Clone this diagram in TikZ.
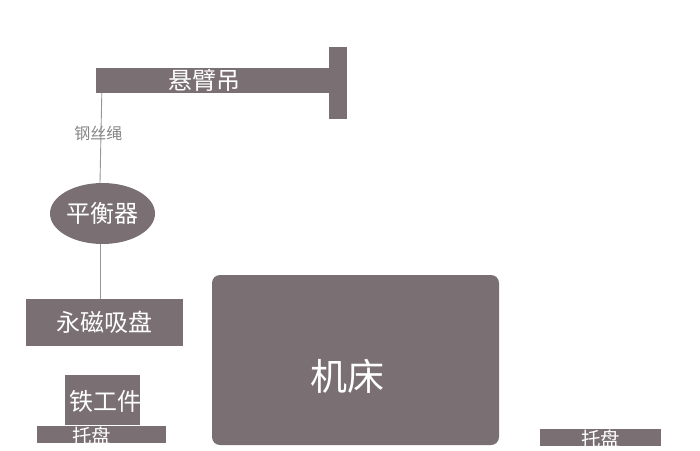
\documentclass[tikz,border=0pt]{standalone}
\usepackage{fontspec}
\setmainfont{Noto Sans CJK SC}
\usetikzlibrary{shapes.geometric}
\definecolor{boxgray}{RGB}{122,112,115}
\definecolor{ropegray}{RGB}{150,150,150}
\definecolor{labelgray}{RGB}{135,135,135}
\tikzset{
  blk/.style={fill=boxgray, draw=none, inner sep=0pt, text=white, font=\fontsize{24}{24}\selectfont},
  traytext/.style={blk, fill=none, font=\fontsize{19.5}{19.5}\selectfont},
  rope/.style={draw=ropegray, line width=0.9pt},
}
\begin{document}
\begin{tikzpicture}[x=1pt,y=-1pt]
\useasboundingbox (0,0) rectangle (700,450);
% jib crane
\node[blk, minimum width=233pt, minimum height=25pt,
  label={[blk, fill=none, xshift=-8pt]center:悬臂吊}] (arm) at (212.5,80.5) {};
\node[blk, minimum width=18pt, minimum height=72pt] (post) at (338,83) {};
% balancer
\node[blk, ellipse, minimum width=105pt, minimum height=61pt] (bal) at (102.5,213.5) {平衡器};
% magnet
\node[blk, minimum width=157pt, minimum height=47pt] (mag) at (104.5,322.5) {永磁吸盘};
% workpiece
\node[blk, minimum width=75pt, minimum height=50pt] (work) at (102.5,400) {};
\node[text=white, font=\fontsize{24}{24}\selectfont, inner sep=0pt] (worklabel) at (105,401) {铁工件};
% trays
\node[blk, minimum width=129pt, minimum height=17pt,
  label={[traytext, xshift=-10pt, yshift=-1.5pt]center:托盘}] (trayL) at (101.5,434.5) {};
\node[blk, minimum width=121pt, minimum height=17pt,
  label={[traytext, yshift=-1pt]center:托盘}] (trayR) at (600.5,437.5) {};
% machine tool
\node[blk, rounded corners=8pt, minimum width=287pt, minimum height=170pt] (mach) at (355.5,360) {};
\node[text=white, font=\fontsize{37}{37}\selectfont, inner sep=0pt] (machlabel) at (347.5,376) {机床};
% ropes
\draw[rope] ([xshift=6pt]arm.south west) -- node[pos=0.45, xshift=-2.5pt, text=labelgray, font=\fontsize{16}{16}\selectfont] (ropelabel) {钢丝绳} ([xshift=-2.5pt]bal.north);
\draw[rope] ([xshift=-2.5pt]bal.south) -- ([xshift=-4.5pt]mag.north);
\end{tikzpicture}
\end{document}
